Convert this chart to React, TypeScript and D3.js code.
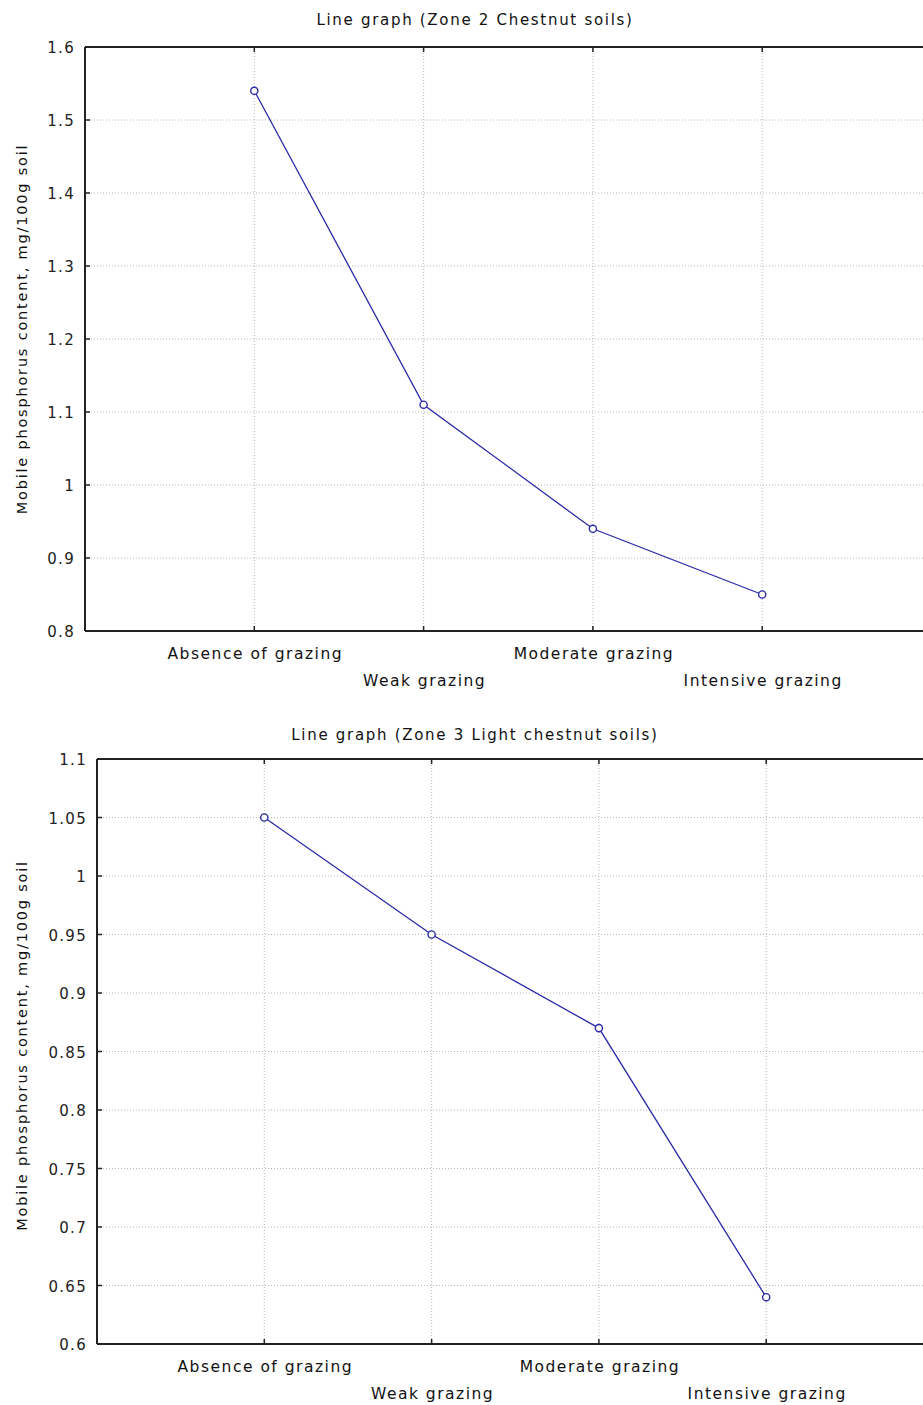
import React from "react";
import * as d3 from "d3";

const categories = ["Absence of grazing", "Weak grazing", "Moderate grazing", "Intensive grazing"];
const zone2Values = [1.54, 1.11, 0.94, 0.85];
const zone3Values = [1.05, 0.95, 0.87, 0.64];
const zone2Ticks = [0.8, 0.9, 1, 1.1, 1.2, 1.3, 1.4, 1.5, 1.6];
const zone3Ticks = [0.6, 0.65, 0.7, 0.75, 0.8, 0.85, 0.9, 0.95, 1, 1.05, 1.1];
const yLabel = "Mobile phosphorus content, mg/100g soil";
const title2 = "Line graph (Zone 2 Chestnut soils)";
const title3 = "Line graph (Zone 3 Light chestnut soils)";

const FONT = "'DejaVu Sans', 'Liberation Sans', Arial, sans-serif";
const LINE = "#2a2aa8";

type PanelProps = {
  values: number[];
  ticks: number[];
  domain: [number, number];
  left: number;
  top: number;
  bottom: number;
  step: number;
  title: string;
  titleY: number;
  labelShift: number;
  fmt: (v: number) => string;
};

function Panel({ values, ticks, domain, left, top, bottom, step, title, titleY, labelShift, fmt }: PanelProps) {
  const x = d3.scaleLinear().domain([0, 5]).range([left, left + 5 * step]);
  const y = d3.scaleLinear().domain(domain).range([bottom, top]);
  const pts = values.map((v, i) => [x(i + 1), y(v)] as [number, number]);
  const line = d3.line()(pts) || "";
  const right = left + 5 * step;
  return (
    <g>
      <text x={475} y={titleY} textAnchor="middle" fontFamily={FONT} fontSize={15} letterSpacing={1.7} fill="#111">
        {title}
      </text>
      {ticks.map((t, i) => (
        <line key={"h" + i} x1={left} x2={right} y1={y(t)} y2={y(t)} stroke="#b8b8b8" strokeWidth={1} strokeDasharray="1,2" />
      ))}
      {categories.map((c, i) => (
        <line key={"v" + i} x1={x(i + 1)} x2={x(i + 1)} y1={top} y2={bottom} stroke="#b8b8b8" strokeWidth={1} strokeDasharray="1,2" />
      ))}
      <line x1={left} x2={right} y1={top} y2={top} stroke="#222" strokeWidth={2} />
      <line x1={left} x2={right} y1={bottom} y2={bottom} stroke="#222" strokeWidth={2} />
      <line x1={left} x2={left} y1={top} y2={bottom} stroke="#222" strokeWidth={2} />
      {categories.map((c, i) => (
        <g key={"t" + i}>
          <line x1={x(i + 1)} x2={x(i + 1)} y1={bottom} y2={bottom - 5} stroke="#222" strokeWidth={1.5} />
          <line x1={x(i + 1)} x2={x(i + 1)} y1={top} y2={top + 5} stroke="#222" strokeWidth={1.5} />
          <text
            x={x(i + 1) + 1}
            y={bottom + (i % 2 === 0 ? 28 : 55)}
            textAnchor="middle"
            fontFamily={FONT}
            fontSize={15.5}
            letterSpacing={1.5}
            fill="#111"
          >
            {c}
          </text>
        </g>
      ))}
      {ticks.map((t, i) => (
        <g key={"y" + i}>
          <line x1={left} x2={left + 5} y1={y(t)} y2={y(t)} stroke="#222" strokeWidth={1.5} />
          <text x={left - 10} y={y(t) + 6} textAnchor="end" fontFamily={FONT} fontSize={15} letterSpacing={1.3} fill="#222">
            {fmt(t)}
          </text>
        </g>
      ))}
      <text
        transform={`translate(27,${(top + bottom) / 2 - labelShift}) rotate(-90)`}
        textAnchor="middle"
        fontFamily={FONT}
        fontSize={14.5}
        letterSpacing={1.8}
        fill="#111"
      >
        {yLabel}
      </text>
      <path d={line} fill="none" stroke={LINE} strokeWidth={1.3} />
      {pts.map((p, i) => (
        <circle key={"c" + i} cx={p[0]} cy={p[1]} r={3.6} fill="#fff" stroke={LINE} strokeWidth={1.4} />
      ))}
    </g>
  );
}

export default function App() {
  const fmt = (v: number) => String(+v.toFixed(2));
  return (
    <svg width={923} height={1405} style={{ position: "absolute", left: 0, top: 0, background: "#fff" }}>
      <rect width={923} height={1405} fill="#fff" />
      <Panel values={zone2Values} ticks={zone2Ticks} domain={[0.8, 1.6]} left={85} top={47} bottom={631} step={169.3}
        title={title2} titleY={25} labelShift={10} fmt={fmt} />
      <Panel values={zone3Values} ticks={zone3Ticks} domain={[0.6, 1.1]} left={97} top={759} bottom={1344} step={167.3}
        title={title3} titleY={740} labelShift={6} fmt={fmt} />
    </svg>
  );
}
